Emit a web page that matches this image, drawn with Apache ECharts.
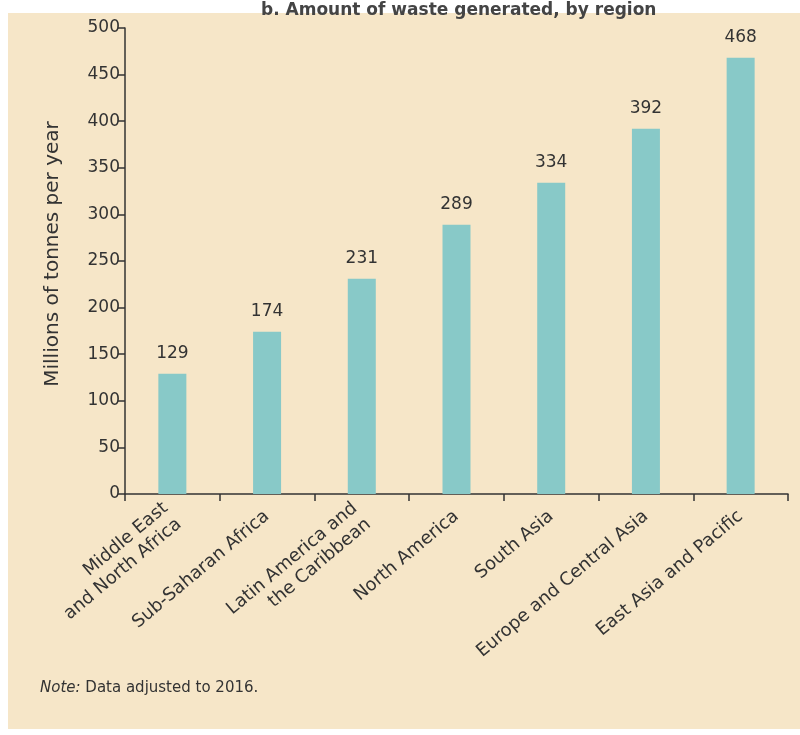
<!DOCTYPE html>
<html>
<head>
<meta charset="utf-8">
<script src="https://cdn.jsdelivr.net/npm/echarts@6/dist/echarts.min.js"></script>
<style>
html, body { margin: 0; padding: 0; background: #fff; }
#chartmain_bar { width: 800px; height: 735px; }
</style>
</head>
<body>
<div id="chartmain_bar"></div>
<script>
// data
var regions = ['Middle East\nand North Africa', 'Sub-Saharan Africa', 'Latin America and\nthe Caribbean', 'North America', 'South Asia', 'Europe and Central Asia', 'East Asia and Pacific'];
var wasteMt = [129, 174, 231, 289, 334, 392, 468];
var yTicks = [0, 500, 50]; // min, max, step

var bar = echarts.init(document.getElementById('chartmain_bar'));

var ink = '#333';
var font = 'DejaVu Sans';

option = {
    backgroundColor: '#fff',
    textStyle: { fontFamily: font },
    title: {
        text: 'b. Amount of waste generated, by region',
        left: 256,
        top: -3,
        textStyle: { color: '#444', fontSize: 17, fontWeight: 'bold', fontFamily: font }
    },
    graphic: [
        {
            type: 'rect', z: -10, silent: true,
            shape: { x: 8, y: 13, width: 792, height: 716 },
            style: { fill: '#f6e6c8' }
        },
        {
            type: 'text', left: 40, top: 681,
            style: {
                text: '{i|Note:} Data adjusted to 2016.',
                fill: ink,
                font: '15px DejaVu Sans',
                rich: { i: { fontStyle: 'italic', fontSize: 15, fontFamily: font, fill: ink } }
            }
        }
    ],
    grid: { left: 125, right: 12, top: 28, bottom: 241 },
    xAxis: {
        type: 'category',
        data: regions,
        axisLine: { lineStyle: { color: ink, width: 1.5 } },
        axisTick: { show: true, length: 7, lineStyle: { color: ink, width: 1.5 } },
        axisLabel: {
            rotate: 40,
            interval: 0,
            margin: 20,
            color: ink,
            fontSize: 18,
            lineHeight: 21,
            align: 'right'
        }
    },
    yAxis: {
        type: 'value',
        min: yTicks[0],
        max: yTicks[1],
        interval: yTicks[2],
        name: 'Millions of tonnes per year',
        nameLocation: 'middle',
        nameGap: 62,
        nameTextStyle: { color: ink, fontSize: 20, padding: [0, 0, 0, 14] },
        axisLine: { show: true, lineStyle: { color: ink, width: 1.5 } },
        axisTick: { show: true, length: 7, lineStyle: { color: ink, width: 1.5 } },
        axisLabel: { color: ink, fontSize: 17, margin: 5 },
        splitLine: { show: false }
    },
    series: [
        {
            type: 'bar',
            data: wasteMt,
            barWidth: 28,
            itemStyle: { color: '#88c9c8' },
            label: {
                show: true,
                position: 'top',
                distance: 12,
                color: ink,
                fontSize: 17
            }
        }
    ]
};
bar.setOption(option);
</script>
</body>
</html>
